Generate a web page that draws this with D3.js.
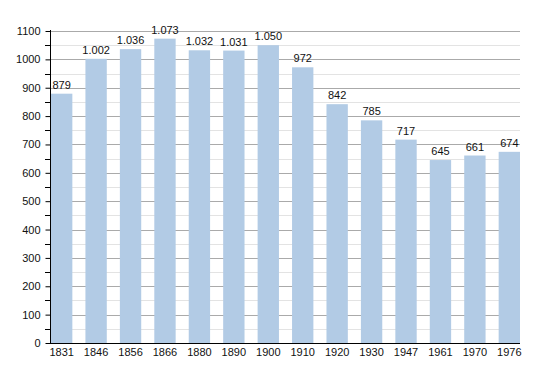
<!DOCTYPE html>
<html><head><meta charset="utf-8">
<script src="https://cdn.jsdelivr.net/npm/d3@7"></script>
<style>body{margin:0;background:#fff;font-family:"Liberation Sans",Arial,sans-serif;}</style>
</head><body><svg id="c" width="550" height="373"></svg>
<script>
const years = ["1831","1846","1856","1866","1880","1890","1900","1910","1920","1930","1947","1961","1970","1976"];
const population = [879,1002,1036,1073,1032,1031,1050,972,842,785,717,645,661,674];
const yTicks = [0,100,200,300,400,500,600,700,800,900,1000,1100];

(function(){
const svg = d3.select("#c");
const mLeft = 50, mRight = 520, mTop = 31, mBottom = 343;
const x = d3.scaleBand().domain(years).range([mLeft+1, mRight]).paddingInner(0.38).paddingOuter(0);
const y = d3.scaleLinear().domain([0,1100]).range([mBottom, mTop]);

const minor = d3.range(50, 1100, 100);
svg.append("g").selectAll("line").data(minor).join("line")
  .attr("x1", mLeft-5).attr("x2", mRight).attr("y1", d=>Math.round(y(d))+0.5).attr("y2", d=>Math.round(y(d))+0.5)
  .attr("stroke", "#e3e3e3");
svg.append("g").selectAll("line").data(yTicks.slice(1)).join("line")
  .attr("x1", mLeft).attr("x2", mRight).attr("y1", d=>Math.round(y(d))+0.5).attr("y2", d=>Math.round(y(d))+0.5)
  .attr("stroke", "#aaaaaa");

svg.append("g").selectAll("rect").data(population).join("rect")
  .attr("x", (d,i)=>x(years[i])).attr("width", x.bandwidth())
  .attr("y", d=>y(d)).attr("height", d=>mBottom - y(d))
  .attr("fill", "#b2cbe5");

const fmt = d => d >= 1000 ? d3.format(",")(d).replace(",", ".") : String(d);
svg.append("g").selectAll("text").data(population).join("text")
  .attr("x", (d,i)=>x(years[i]) + x.bandwidth()/2).attr("y", d=>y(d)-5)
  .attr("text-anchor", "middle").attr("font-size", 11).attr("fill", "#111")
  .text(fmt);

const ya = d3.axisLeft(y).tickValues(yTicks).tickSize(5).tickFormat(d3.format("d"));
const gy = svg.append("g").attr("transform", `translate(${mLeft+0.5},0)`).call(ya);
gy.select(".domain").remove();
gy.selectAll(".tick line").attr("stroke", "#000");
gy.selectAll(".tick text").attr("font-size", 11).attr("font-family", "Liberation Sans, Arial, sans-serif").attr("fill", "#111").attr("x", -10);
svg.append("g").selectAll("line").data(minor).join("line")
  .attr("x1", mLeft-5).attr("x2", mLeft).attr("y1", d=>Math.round(y(d))+0.5).attr("y2", d=>Math.round(y(d))+0.5)
  .attr("stroke", "#000");
svg.append("line").attr("x1", mLeft+0.5).attr("x2", mLeft+0.5).attr("y1", mTop-1).attr("y2", mBottom).attr("stroke", "#000");
svg.append("line").attr("x1", mLeft).attr("x2", mRight).attr("y1", mBottom+0.5).attr("y2", mBottom+0.5).attr("stroke", "#000");

svg.append("g").selectAll("text").data(years).join("text")
  .attr("x", d=>x(d)+x.bandwidth()/2).attr("y", mBottom+13)
  .attr("text-anchor", "middle").attr("font-size", 11).attr("fill", "#111")
  .text(d=>d);
})();
</script></body></html>
